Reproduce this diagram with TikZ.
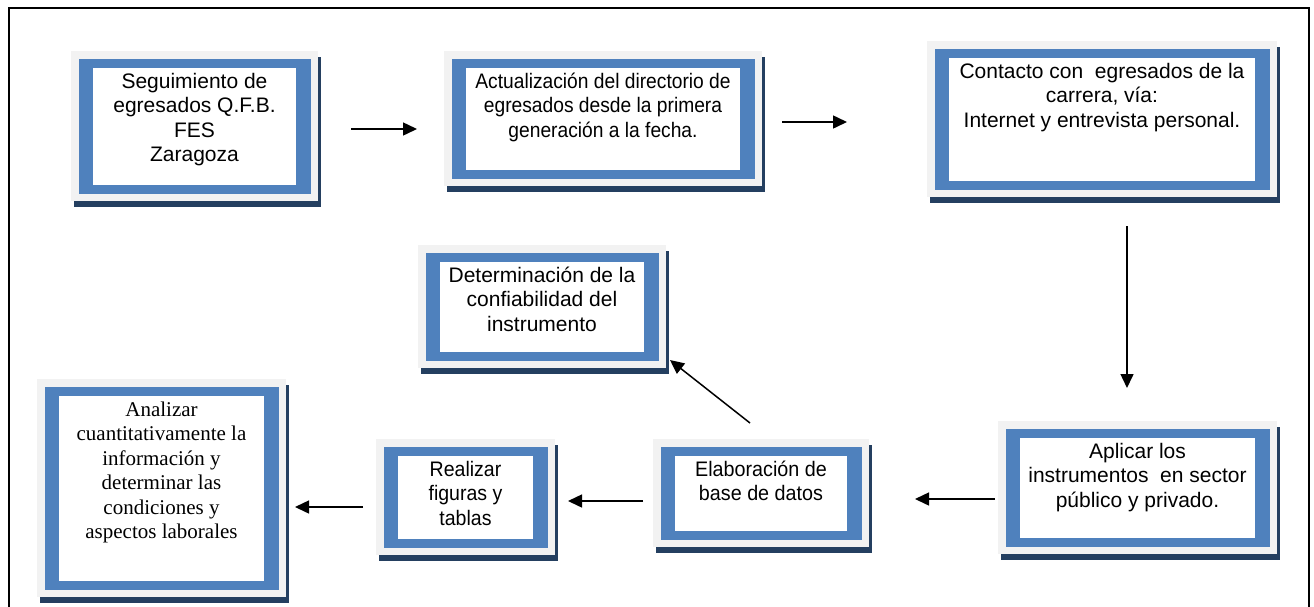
\documentclass[tikz,border=0pt]{standalone}
\usepackage{fontspec}
\usepackage{graphicx}
\setmainfont{Liberation Sans}
\newfontfamily\tnrfont{Liberation Serif}
\usetikzlibrary{arrows.meta}
\definecolor{shadowc}{HTML}{243F60}
\definecolor{grayc}{HTML}{F2F2F2}
\definecolor{bluec}{HTML}{4F81BD}
\tikzset{
  txt/.style={anchor=north, inner sep=0pt, font=\fontsize{21}{24.5}\selectfont},
  arr/.style={line width=1.5pt, -{Triangle[length=14pt,width=13pt]}},
  frameline/.style={line width=2.2pt}
}
% #1 name, #2-#5 outer grey rectangle, #6 horizontal text scale, #7 text
\newcommand{\flowbox}[7]{%
  \fill[shadowc] ({#2+2.5},{#3+5.5}) rectangle ({#4+2.5},{#5+5.5});
  \fill[grayc] (#2,#3) rectangle (#4,#5);
  \fill[bluec] ({#2+7.5},{#3+7.5}) rectangle ({#4-7.5},{#5-7.5});
  \fill[white] ({#2+22},{#3+16.5}) rectangle ({#4-22},{#5-16.5});
  \node[txt] (#1) at ({(#2+#4)/2},{#3+16.5+3.35})
    {\scalebox{#6}[1]{\begin{tabular}{@{}c@{}}#7\end{tabular}}};
}
\begin{document}
\begin{tikzpicture}[x=1pt,y=-1pt]
\useasboundingbox (0,0) rectangle (1314,606);
\fill[white] (0,0) rectangle (1314,606);
\begin{scope}
\clip (0,0) rectangle (1314,606);
\draw[frameline] (9,8) rectangle (1309,640);
\end{scope}

\flowbox{b1}{71}{51}{318}{201}{1}{Seguimiento de\\egresados Q.F.B.\\FES\\Zaragoza}
\flowbox{b2}{444}{51}{762}{186}{0.915}{Actualización del directorio de\\egresados desde la primera\\generación a la fecha.}
\flowbox{b3}{927}{41}{1277}{197}{1}{Contacto con\ \ egresados de la\\carrera, vía:\\Internet y entrevista personal.}
\flowbox{b4}{418}{245}{666}{368}{1}{Determinación de la\\confiabilidad del\\instrumento}
\flowbox{b5}{998}{421}{1277}{554}{1}{Aplicar los\\instrumentos\ \ en sector\\público y privado.}
\flowbox{b6}{653}{439}{869}{547}{0.94}{Elaboración de\\base de datos}
\flowbox{b7}{376}{439}{555}{555}{0.93}{Realizar\\figuras y\\tablas}
\flowbox{b8}{37}{379}{286}{597}{1}{\tnrfont Analizar\\\tnrfont cuantitativamente la\\\tnrfont información y\\\tnrfont determinar las\\\tnrfont condiciones y\\\tnrfont aspectos laborales}

\coordinate (a1s) at (351,129); \coordinate (a1e) at (417,129);
\coordinate (a2s) at (782,122); \coordinate (a2e) at (847,122);
\coordinate (a3s) at (1127,226); \coordinate (a3e) at (1127,388);
\coordinate (a4s) at (995,499); \coordinate (a4e) at (915,499);
\coordinate (a5s) at (643,501); \coordinate (a5e) at (568,501);
\coordinate (a6s) at (363,507); \coordinate (a6e) at (295,507);
\coordinate (a7s) at (750,423); \coordinate (a7e) at (670,360);

\draw[arr] (a1s) -- (a1e);
\draw[arr] (a2s) -- (a2e);
\draw[arr] (a3s) -- (a3e);
\draw[arr] (a4s) -- (a4e);
\draw[arr] (a5s) -- (a5e);
\draw[arr] (a6s) -- (a6e);
\draw[arr] (a7s) -- (a7e);
\end{tikzpicture}
\end{document}
